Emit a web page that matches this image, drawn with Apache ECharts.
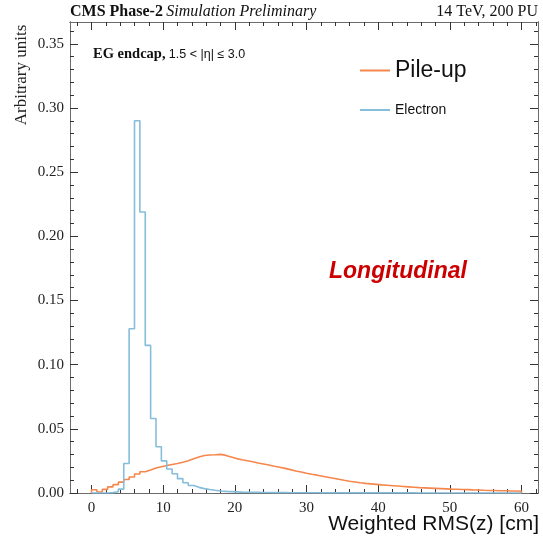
<!DOCTYPE html>
<html>
<head>
<meta charset="utf-8">
<script src="https://cdn.jsdelivr.net/npm/echarts@6/dist/echarts.min.js"></script>
<style>
  html, body { margin: 0; padding: 0; background: #fff; }
  #chart { width: 543px; height: 541px; }
</style>
</head>
<body>
<div id="chart"></div>
<script>
// histogram binning: 80 bins of 0.75 cm from 0 to 60
const binWidth = 0.75;

// Pile-up (orange) bin contents
const pileup = [
  0.0025, 0.0008, 0.0028, 0.0048, 0.0065, 0.0085, 0.0105, 0.0125, 0.0148, 0.0166,
  0.0180, 0.0195, 0.0205, 0.0214, 0.0222, 0.0230, 0.0240, 0.0252, 0.0266, 0.0281,
  0.0292, 0.0296, 0.0298, 0.0301, 0.0293, 0.0281, 0.0268, 0.0259, 0.0251, 0.0244,
  0.0234, 0.0226, 0.0218, 0.0209, 0.0201, 0.0192, 0.0182, 0.0172, 0.0163, 0.0154,
  0.0146, 0.0139, 0.0131, 0.0123, 0.0115, 0.0107, 0.0099, 0.0092, 0.0086, 0.0080,
  0.0075, 0.0071, 0.0067, 0.0063, 0.0060, 0.0057, 0.0054, 0.0051, 0.0048, 0.0045,
  0.0042, 0.0040, 0.0038, 0.0036, 0.0034, 0.0032, 0.0030, 0.0029, 0.0027, 0.0026,
  0.0024, 0.0023, 0.0021, 0.0020, 0.0019, 0.0018, 0.0017, 0.0016, 0.0015, 0.0014
];

// Electron (blue) bin contents
const electron = [
  0, 0, 0, 0.0003, 0.001, 0.003, 0.023, 0.128, 0.290, 0.219,
  0.115, 0.058, 0.036, 0.025, 0.0187, 0.0150, 0.0112, 0.0080, 0.0058, 0.0044,
  0.0034, 0.0027, 0.0021, 0.0016, 0.0013, 0.0011, 0.0009, 0.0007, 0.0006, 0.0005,
  0.0005, 0.0004, 0.0004, 0.0003, 0.0003, 0.0003, 0.0002, 0.0002, 0.0002, 0.0002,
  0.0002, 0.0002, 0.0001, 0.0001, 0.0001, 0.0001, 0.0001, 0.0001, 0.0001, 0.0001,
  0.0001, 0.0001, 0.0001, 0.0001, 0.0001, 0.0001, 0.0001, 0.0001, 0.0001, 0.0001,
  0, 0, 0, 0, 0, 0, 0, 0, 0, 0,
  0, 0, 0, 0, 0, 0, 0, 0, 0, 0
];

// tick positions
const xMajor = [0, 10, 20, 30, 40, 50, 60];
const xMinor = [-2, 2, 4, 6, 8, 12, 14, 16, 18, 22, 24, 26, 28, 32, 34, 36, 38,
  42, 44, 46, 48, 52, 54, 56, 58, 62];
const yMajor = [0, 0.05, 0.10, 0.15, 0.20, 0.25, 0.30, 0.35];
const yMinor = [0.01, 0.02, 0.03, 0.04, 0.06, 0.07, 0.08, 0.09, 0.11, 0.12, 0.13, 0.14,
  0.16, 0.17, 0.18, 0.19, 0.21, 0.22, 0.23, 0.24, 0.26, 0.27, 0.28, 0.29,
  0.31, 0.32, 0.33, 0.34, 0.36];

const X_MIN = -3, X_MAX = 62.3, Y_MIN = 0, Y_MAX = 0.367;
const frameColor = '#6b6b6b';
const serif = '"Liberation Serif", "DejaVu Serif", serif';
const sans = '"Liberation Sans", Arial, sans-serif';

// turn bin contents into step outline points
function toSteps(vals) {
  const pts = [[0, 0]];
  vals.forEach((v, i) => pts.push([i * binWidth, v]));
  const end = vals.length * binWidth;
  pts.push([end, vals[vals.length - 1]]);
  pts.push([end, 0]);
  return pts;
}

function xAxisDef(pos, ticks, len, labels) {
  return {
    type: 'value', position: pos, min: X_MIN, max: X_MAX,
    axisLine: { show: true, onZero: false, lineStyle: { color: frameColor, width: 1 } },
    axisTick: { show: true, inside: true, length: len, customValues: ticks,
      lineStyle: { color: '#333', width: 1 } },
    axisLabel: labels ? {
      show: true, customValues: ticks, margin: 8,
      fontFamily: serif, fontSize: 15, color: '#222'
    } : { show: false },
    splitLine: { show: false }
  };
}

function yAxisDef(pos, ticks, len, labels) {
  return {
    type: 'value', position: pos, min: Y_MIN, max: Y_MAX,
    axisLine: { show: true, onZero: false, lineStyle: { color: frameColor, width: 1 } },
    axisTick: { show: true, inside: true, length: len, customValues: ticks,
      lineStyle: { color: '#333', width: 1 } },
    axisLabel: labels ? {
      show: true, customValues: ticks, margin: 6,
      fontFamily: serif, fontSize: 15, color: '#222',
      formatter: v => v.toFixed(2)
    } : { show: false },
    splitLine: { show: false }
  };
}

const chart = echarts.init(document.getElementById('chart'), null, { renderer: 'canvas' });

const option = {
  backgroundColor: '#fff',
  animation: false,
  grid: { left: 70, top: 22, width: 468, height: 471, containLabel: false },
  xAxis: [
    xAxisDef('bottom', xMajor, 8, true),
    xAxisDef('bottom', xMinor, 4, false),
    xAxisDef('top', xMajor, 8, false),
    xAxisDef('top', xMinor, 4, false)
  ],
  yAxis: [
    yAxisDef('left', yMajor, 8, true),
    yAxisDef('left', yMinor, 4, false),
    yAxisDef('right', yMajor, 8, false),
    yAxisDef('right', yMinor, 4, false)
  ],
  legend: [
    {
      data: ['Pile-up'], left: 355, top: 54, itemWidth: 30, itemHeight: 2, itemGap: 8,
      icon: 'rect',
      textStyle: { fontFamily: sans, fontSize: 23, color: '#111' }
    },
    {
      data: ['Electron'], left: 355, top: 98, itemWidth: 30, itemHeight: 2, itemGap: 8,
      icon: 'rect',
      textStyle: { fontFamily: sans, fontSize: 14, color: '#111' }
    }
  ],
  series: [
    {
      name: 'Pile-up', type: 'line', step: 'end', showSymbol: false,
      xAxisIndex: 0, yAxisIndex: 0,
      data: toSteps(pileup),
      lineStyle: { color: '#f5874d', width: 1.6 },
      itemStyle: { color: '#f5874d' }
    },
    {
      name: 'Electron', type: 'line', step: 'end', showSymbol: false,
      xAxisIndex: 0, yAxisIndex: 0,
      data: toSteps(electron),
      lineStyle: { color: '#86bddb', width: 1.6 },
      itemStyle: { color: '#86bddb' }
    }
  ],
  graphic: [
    {
      type: 'text', left: 70, top: 4,
      style: {
        text: '{b|CMS Phase-2} {i|Simulation Preliminary}',
        rich: {
          b: { fontFamily: serif, fontSize: 16, fontWeight: 'bold', fill: '#111' },
          i: { fontFamily: serif, fontSize: 16, fontStyle: 'italic', fill: '#111' }
        }
      }
    },
    {
      type: 'text', right: 5, top: 4,
      style: { text: '14 TeV, 200 PU', fontFamily: serif, fontSize: 16, fill: '#111' }
    },
    {
      type: 'text', x: 22, y: 75, rotation: Math.PI / 2,
      style: {
        text: 'Arbitrary units', fontFamily: serif, fontSize: 17, fill: '#222',
        align: 'center', verticalAlign: 'middle'
      }
    },
    {
      type: 'text', right: 4, top: 514,
      style: { text: 'Weighted RMS(z) [cm]', fontFamily: sans, fontSize: 21, fill: '#111' }
    },
    {
      type: 'text', left: 93, top: 47,
      style: {
        text: '{b|EG endcap,} {s|1.5 < |η| ≤ 3.0}',
        rich: {
          b: { fontFamily: serif, fontSize: 14.5, fontWeight: 'bold', fill: '#111' },
          s: { fontFamily: sans, fontSize: 12.5, fill: '#111' }
        }
      }
    },
    {
      type: 'text', left: 329, top: 260,
      style: {
        text: 'Longitudinal', fontFamily: sans, fontSize: 23, fontWeight: 'bold',
        fontStyle: 'italic', fill: '#cc0000'
      }
    }
  ]
};

chart.setOption(option);
</script>
</body>
</html>
